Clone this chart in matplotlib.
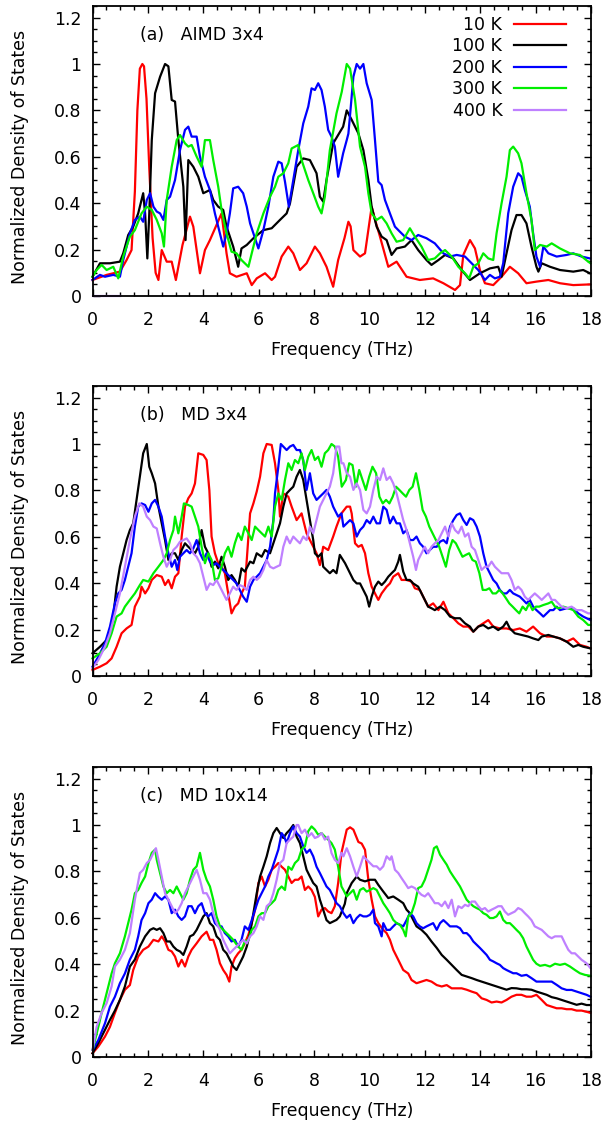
import matplotlib
matplotlib.use("Agg")
import matplotlib.pyplot as plt
from matplotlib.ticker import MultipleLocator, FuncFormatter

plt.rcParams['font.family'] = ['DejaVu Sans']

# ---------------- data: (frequency THz, normalized DOS) ----------------
labels = ["10 K", "100 K", "200 K", "300 K", "400 K"]
colors = ["#ff0000", "#000000", "#0000ff", "#00ee00", "#bf80ff"]
panel_titles = ["(a)   AIMD 3x4", "(b)   MD 3x4", "(c)   MD 10x14"]

a_10K = [(0.0,0.069),(0.51,0.091),(0.99,0.105),(1.23,0.155),(1.41,0.198),(1.53,0.45),(1.62,0.8),(1.71,0.98),(1.80,1.0),(1.86,0.99),(1.95,0.85),(2.05,0.55),(2.17,0.25),(2.28,0.10),(2.38,0.069),(2.50,0.198),(2.68,0.148),(2.86,0.148),(3.01,0.069),(3.25,0.22),(3.52,0.342),(3.64,0.299),(3.88,0.098),(4.06,0.198),(4.24,0.241),(4.66,0.356),(4.84,0.184),(4.96,0.098),(5.20,0.083),(5.57,0.098),(5.75,0.047),(5.93,0.076),(6.23,0.098),(6.47,0.069),(6.59,0.083),(6.83,0.170),(7.07,0.213),(7.25,0.184),(7.49,0.112),(7.73,0.141),(8.03,0.213),(8.21,0.184),(8.45,0.126),(8.69,0.040),(8.87,0.155),(9.10,0.25),(9.24,0.32),(9.32,0.30),(9.42,0.198),(9.66,0.170),(9.84,0.184),(10.08,0.385),(10.20,0.33),(10.38,0.256),(10.68,0.126),(10.98,0.148),(11.34,0.083),(11.82,0.069),(12.30,0.076),(12.67,0.055),(13.09,0.026),(13.27,0.047),(13.39,0.177),(13.63,0.241),(13.81,0.205),(13.99,0.112),(14.17,0.055),(14.47,0.047),(14.77,0.083),(15.07,0.126),(15.37,0.098),(15.67,0.055),(16.03,0.062),(16.46,0.069),(16.88,0.055),(17.36,0.047),(17.96,0.050)]
a_100K = [(0.0,0.083),(0.27,0.141),(0.63,0.141),(0.99,0.148),(1.11,0.184),(1.29,0.263),(1.47,0.299),(1.65,0.356),(1.83,0.443),(1.90,0.356),(1.98,0.162),(2.05,0.356),(2.14,0.672),(2.26,0.874),(2.44,0.945),(2.62,1.0),(2.74,0.99),(2.86,0.845),(2.98,0.838),(3.10,0.672),(3.28,0.471),(3.36,0.241),(3.46,0.586),(3.64,0.557),(3.82,0.514),(4.00,0.443),(4.24,0.457),(4.36,0.414),(4.54,0.385),(4.72,0.371),(4.84,0.299),(5.08,0.213),(5.26,0.126),(5.38,0.205),(5.57,0.220),(5.81,0.249),(6.17,0.284),(6.47,0.292),(6.77,0.328),(7.01,0.356),(7.13,0.399),(7.37,0.557),(7.61,0.593),(7.85,0.586),(8.09,0.529),(8.21,0.428),(8.33,0.407),(8.45,0.500),(8.69,0.658),(9.05,0.730),(9.18,0.80),(9.36,0.759),(9.60,0.701),(9.78,0.629),(9.96,0.500),(10.08,0.385),(10.26,0.299),(10.44,0.256),(10.62,0.241),(10.80,0.177),(10.98,0.205),(11.28,0.213),(11.52,0.241),(11.76,0.198),(12.06,0.155),(12.24,0.134),(12.49,0.155),(12.73,0.177),(13.03,0.162),(13.33,0.112),(13.63,0.069),(13.99,0.098),(14.35,0.119),(14.65,0.126),(14.77,0.083),(14.95,0.184),(15.13,0.284),(15.31,0.349),(15.49,0.349),(15.67,0.313),(15.85,0.213),(16.03,0.126),(16.10,0.105),(16.22,0.141),(16.52,0.126),(16.88,0.112),(17.36,0.105),(17.72,0.112),(17.96,0.098)]
a_200K = [(0.0,0.069),(0.27,0.091),(0.45,0.083),(0.75,0.091),(0.99,0.083),(1.11,0.155),(1.35,0.270),(1.53,0.328),(1.71,0.342),(1.83,0.320),(1.96,0.414),(2.08,0.443),(2.20,0.385),(2.32,0.364),(2.44,0.356),(2.56,0.328),(2.68,0.414),(2.80,0.428),(2.98,0.500),(3.16,0.629),(3.34,0.716),(3.46,0.730),(3.58,0.687),(3.76,0.687),(3.88,0.601),(4.06,0.514),(4.24,0.457),(4.42,0.356),(4.60,0.270),(4.72,0.213),(4.84,0.270),(4.96,0.356),(5.08,0.464),(5.26,0.471),(5.44,0.443),(5.57,0.385),(5.69,0.313),(5.81,0.270),(5.99,0.205),(6.17,0.284),(6.35,0.385),(6.53,0.514),(6.71,0.579),(6.83,0.572),(6.95,0.493),(7.09,0.385),(7.25,0.500),(7.43,0.629),(7.61,0.744),(7.79,0.816),(7.91,0.895),(8.03,0.888),(8.15,0.917),(8.27,0.888),(8.39,0.816),(8.51,0.716),(8.63,0.687),(8.75,0.644),(8.87,0.514),(9.05,0.615),(9.18,0.672),(9.24,0.70),(9.30,0.78),(9.42,0.945),(9.54,1.0),(9.66,0.98),(9.78,1.0),(9.90,0.917),(10.08,0.845),(10.20,0.672),(10.32,0.493),(10.44,0.478),(10.56,0.414),(10.74,0.356),(10.92,0.299),(11.10,0.277),(11.28,0.256),(11.52,0.241),(11.76,0.263),(12.06,0.249),(12.36,0.227),(12.67,0.184),(12.91,0.170),(13.15,0.177),(13.45,0.170),(13.69,0.141),(13.93,0.112),(14.17,0.069),(14.35,0.091),(14.53,0.076),(14.71,0.083),(14.83,0.141),(15.01,0.356),(15.19,0.471),(15.37,0.529),(15.49,0.514),(15.61,0.457),(15.79,0.385),(15.91,0.270),(16.03,0.170),(16.16,0.126),(16.28,0.213),(16.46,0.184),(16.76,0.170),(17.12,0.177),(17.36,0.184),(17.66,0.170),(17.96,0.162)]
a_300K = [(0.0,0.083),(0.15,0.112),(0.33,0.134),(0.51,0.112),(0.75,0.126),(0.93,0.076),(1.11,0.170),(1.35,0.256),(1.53,0.284),(1.77,0.356),(1.96,0.385),(2.14,0.371),(2.32,0.328),(2.50,0.270),(2.58,0.213),(2.68,0.414),(2.86,0.557),(3.04,0.672),(3.16,0.694),(3.34,0.658),(3.46,0.644),(3.58,0.651),(3.76,0.601),(3.94,0.557),(4.06,0.672),(4.24,0.672),(4.36,0.586),(4.54,0.471),(4.66,0.371),(4.84,0.270),(5.02,0.191),(5.20,0.184),(5.38,0.155),(5.63,0.126),(5.75,0.184),(5.93,0.270),(6.17,0.356),(6.41,0.428),(6.59,0.471),(6.71,0.514),(6.89,0.529),(7.07,0.572),(7.19,0.636),(7.43,0.651),(7.55,0.586),(7.79,0.500),(7.97,0.443),(8.15,0.385),(8.27,0.356),(8.39,0.428),(8.57,0.629),(8.81,0.787),(9.00,0.880),(9.18,1.0),(9.30,0.98),(9.48,0.845),(9.66,0.644),(9.84,0.557),(9.96,0.443),(10.08,0.356),(10.26,0.328),(10.44,0.342),(10.62,0.313),(10.80,0.270),(10.98,0.234),(11.22,0.241),(11.46,0.292),(11.64,0.256),(11.88,0.213),(12.12,0.155),(12.36,0.162),(12.55,0.184),(12.73,0.198),(12.97,0.170),(13.21,0.126),(13.45,0.098),(13.60,0.076),(13.75,0.126),(13.93,0.141),(14.11,0.184),(14.29,0.162),(14.47,0.155),(14.59,0.270),(14.77,0.399),(14.95,0.514),(15.07,0.629),(15.19,0.644),(15.37,0.615),(15.49,0.572),(15.67,0.443),(15.85,0.328),(15.97,0.198),(16.16,0.220),(16.40,0.213),(16.58,0.227),(16.88,0.205),(17.24,0.184),(17.60,0.177),(17.90,0.148),(17.98,0.141)]
a_400K = [(0.0,0.0),(0.99,0.0)]

b_10K = [(0.0,0.026),(0.27,0.040),(0.51,0.055),(0.69,0.076),(0.87,0.126),(1.05,0.184),(1.23,0.205),(1.41,0.220),(1.53,0.299),(1.71,0.342),(1.77,0.385),(1.90,0.356),(2.02,0.378),(2.14,0.414),(2.32,0.435),(2.50,0.428),(2.62,0.392),(2.74,0.414),(2.86,0.378),(2.98,0.428),(3.10,0.443),(3.22,0.601),(3.34,0.730),(3.46,0.766),(3.58,0.787),(3.70,0.830),(3.82,0.960),(4.00,0.953),(4.12,0.931),(4.22,0.80),(4.30,0.601),(4.42,0.529),(4.54,0.486),(4.66,0.471),(4.78,0.443),(4.90,0.356),(5.02,0.270),(5.14,0.299),(5.26,0.313),(5.38,0.356),(5.50,0.385),(5.57,0.500),(5.69,0.701),(5.81,0.744),(5.93,0.795),(6.05,0.859),(6.17,0.960),(6.29,1.0),(6.47,0.996),(6.59,0.917),(6.71,0.802),(6.77,0.687),(6.89,0.787),(7.07,0.773),(7.19,0.730),(7.37,0.672),(7.55,0.701),(7.73,0.615),(7.91,0.572),(8.09,0.529),(8.21,0.478),(8.33,0.557),(8.51,0.543),(8.69,0.601),(8.81,0.644),(8.99,0.701),(9.18,0.730),(9.30,0.730),(9.36,0.70),(9.48,0.572),(9.60,0.557),(9.72,0.565),(9.84,0.529),(9.96,0.443),(10.08,0.385),(10.20,0.356),(10.32,0.328),(10.44,0.356),(10.62,0.385),(10.74,0.399),(10.86,0.428),(11.04,0.443),(11.16,0.414),(11.34,0.414),(11.52,0.407),(11.64,0.378),(11.82,0.371),(11.94,0.342),(12.12,0.299),(12.30,0.313),(12.49,0.284),(12.67,0.320),(12.85,0.270),(13.03,0.249),(13.21,0.227),(13.39,0.213),(13.57,0.213),(13.75,0.191),(13.93,0.213),(14.11,0.227),(14.29,0.241),(14.47,0.213),(14.71,0.205),(14.95,0.205),(15.19,0.198),(15.43,0.205),(15.67,0.191),(15.91,0.213),(16.16,0.184),(16.40,0.170),(16.64,0.170),(16.88,0.162),(17.12,0.148),(17.36,0.162),(17.60,0.134),(17.84,0.126),(17.98,0.119)]
b_100K = [(0.0,0.098),(0.27,0.126),(0.51,0.155),(0.63,0.184),(0.75,0.256),(0.87,0.385),(0.99,0.471),(1.11,0.529),(1.23,0.586),(1.35,0.629),(1.47,0.658),(1.59,0.759),(1.71,0.859),(1.83,0.960),(1.96,1.0),(2.05,0.902),(2.14,0.874),(2.26,0.830),(2.38,0.730),(2.50,0.658),(2.62,0.586),(2.74,0.500),(2.86,0.529),(2.98,0.529),(3.10,0.500),(3.22,0.543),(3.34,0.572),(3.46,0.557),(3.58,0.543),(3.70,0.529),(3.82,0.557),(3.94,0.629),(4.06,0.557),(4.18,0.529),(4.30,0.471),(4.42,0.493),(4.54,0.464),(4.66,0.514),(4.78,0.471),(4.90,0.414),(5.02,0.435),(5.14,0.414),(5.26,0.385),(5.38,0.464),(5.50,0.450),(5.69,0.493),(5.81,0.486),(5.93,0.529),(6.11,0.514),(6.23,0.543),(6.41,0.529),(6.53,0.572),(6.65,0.615),(6.77,0.658),(6.89,0.730),(7.01,0.787),(7.13,0.802),(7.25,0.816),(7.37,0.859),(7.49,0.888),(7.61,0.845),(7.73,0.759),(7.85,0.672),(7.97,0.586),(8.03,0.529),(8.15,0.514),(8.27,0.529),(8.33,0.471),(8.45,0.457),(8.57,0.443),(8.69,0.457),(8.81,0.443),(8.93,0.522),(9.12,0.486),(9.30,0.443),(9.42,0.414),(9.54,0.399),(9.66,0.399),(9.78,0.371),(9.90,0.342),(9.99,0.299),(10.08,0.342),(10.20,0.385),(10.32,0.407),(10.44,0.392),(10.56,0.407),(10.68,0.428),(10.80,0.443),(10.92,0.457),(11.04,0.493),(11.10,0.522),(11.22,0.450),(11.34,0.414),(11.46,0.414),(11.58,0.399),(11.76,0.385),(11.88,0.356),(12.00,0.328),(12.12,0.299),(12.24,0.292),(12.36,0.284),(12.55,0.299),(12.73,0.284),(12.91,0.256),(13.09,0.249),(13.27,0.249),(13.45,0.227),(13.63,0.213),(13.75,0.191),(13.93,0.213),(14.11,0.220),(14.29,0.205),(14.47,0.213),(14.65,0.198),(14.83,0.213),(14.95,0.234),(15.07,0.205),(15.25,0.184),(15.49,0.177),(15.73,0.170),(15.91,0.162),(16.10,0.155),(16.22,0.170),(16.46,0.177),(16.64,0.170),(16.88,0.162),(17.12,0.148),(17.36,0.126),(17.54,0.134),(17.72,0.126),(17.98,0.119)]
b_200K = [(0.0,0.040),(0.21,0.083),(0.45,0.141),(0.63,0.213),(0.81,0.313),(0.93,0.356),(1.05,0.371),(1.17,0.414),(1.29,0.471),(1.41,0.529),(1.53,0.644),(1.65,0.730),(1.77,0.744),(1.90,0.737),(2.02,0.708),(2.14,0.744),(2.26,0.759),(2.38,0.730),(2.50,0.687),(2.62,0.601),(2.74,0.529),(2.86,0.471),(2.98,0.500),(3.06,0.457),(3.16,0.514),(3.28,0.529),(3.40,0.543),(3.52,0.529),(3.64,0.550),(3.76,0.586),(3.88,0.529),(4.00,0.500),(4.12,0.529),(4.24,0.493),(4.36,0.478),(4.48,0.486),(4.60,0.471),(4.72,0.457),(4.84,0.443),(4.96,0.428),(5.08,0.414),(5.20,0.399),(5.32,0.371),(5.44,0.342),(5.57,0.320),(5.69,0.385),(5.81,0.414),(5.93,0.428),(6.05,0.443),(6.17,0.471),(6.29,0.500),(6.41,0.557),(6.53,0.672),(6.59,0.787),(6.71,0.902),(6.80,1.0),(6.89,0.989),(7.01,0.974),(7.13,0.989),(7.25,0.996),(7.37,0.974),(7.49,0.974),(7.61,0.931),(7.73,0.802),(7.85,0.874),(7.97,0.787),(8.09,0.759),(8.21,0.773),(8.33,0.787),(8.45,0.802),(8.57,0.773),(8.69,0.730),(8.87,0.687),(8.99,0.701),(9.06,0.644),(9.18,0.658),(9.30,0.672),(9.42,0.658),(9.54,0.601),(9.66,0.629),(9.78,0.644),(9.90,0.672),(10.02,0.658),(10.14,0.687),(10.26,0.658),(10.38,0.658),(10.50,0.730),(10.62,0.716),(10.74,0.658),(10.86,0.687),(10.98,0.658),(11.10,0.658),(11.22,0.615),(11.34,0.629),(11.46,0.586),(11.58,0.586),(11.70,0.601),(11.82,0.572),(11.94,0.557),(12.06,0.529),(12.18,0.543),(12.30,0.557),(12.43,0.557),(12.55,0.579),(12.67,0.586),(12.79,0.572),(12.91,0.644),(13.03,0.672),(13.15,0.694),(13.27,0.701),(13.39,0.672),(13.51,0.651),(13.63,0.680),(13.75,0.672),(13.87,0.644),(13.99,0.601),(14.11,0.529),(14.23,0.471),(14.35,0.443),(14.47,0.414),(14.59,0.399),(14.71,0.371),(14.83,0.356),(14.95,0.356),(15.07,0.371),(15.19,0.356),(15.31,0.349),(15.43,0.342),(15.55,0.328),(15.67,0.313),(15.79,0.328),(15.91,0.299),(16.03,0.284),(16.16,0.270),(16.28,0.256),(16.40,0.270),(16.52,0.284),(16.64,0.284),(16.76,0.299),(16.88,0.284),(17.12,0.292),(17.36,0.292),(17.54,0.270),(17.72,0.256),(17.98,0.241)]
b_300K = [(0.0,0.076),(0.27,0.098),(0.51,0.126),(0.69,0.184),(0.87,0.256),(1.05,0.270),(1.17,0.299),(1.35,0.328),(1.53,0.356),(1.71,0.392),(1.83,0.414),(2.02,0.407),(2.20,0.443),(2.38,0.471),(2.56,0.500),(2.68,0.529),(2.80,0.586),(2.92,0.629),(2.98,0.687),(3.10,0.615),(3.22,0.687),(3.30,0.744),(3.46,0.737),(3.58,0.730),(3.70,0.687),(3.82,0.644),(3.94,0.557),(4.06,0.486),(4.18,0.529),(4.30,0.500),(4.42,0.414),(4.54,0.421),(4.66,0.471),(4.78,0.529),(4.90,0.557),(5.02,0.514),(5.14,0.572),(5.26,0.615),(5.38,0.586),(5.50,0.644),(5.63,0.615),(5.75,0.586),(5.87,0.644),(5.99,0.629),(6.11,0.615),(6.23,0.601),(6.35,0.644),(6.47,0.601),(6.59,0.730),(6.71,0.787),(6.83,0.759),(6.95,0.845),(7.07,0.917),(7.19,0.888),(7.31,0.931),(7.43,0.917),(7.55,0.960),(7.67,0.888),(7.79,0.945),(7.91,0.974),(8.03,0.931),(8.15,0.945),(8.27,0.902),(8.39,0.960),(8.51,0.974),(8.63,1.0),(8.75,0.989),(8.87,0.945),(9.00,0.816),(9.15,0.845),(9.27,0.917),(9.39,0.909),(9.51,0.816),(9.63,0.888),(9.75,0.845),(9.87,0.802),(9.99,0.859),(10.11,0.902),(10.24,0.874),(10.36,0.773),(10.48,0.744),(10.60,0.759),(10.72,0.744),(10.84,0.773),(10.96,0.816),(11.08,0.802),(11.20,0.787),(11.32,0.773),(11.44,0.802),(11.56,0.816),(11.68,0.874),(11.80,0.802),(11.92,0.716),(12.04,0.687),(12.16,0.644),(12.28,0.615),(12.40,0.586),(12.52,0.557),(12.64,0.514),(12.76,0.471),(12.88,0.543),(13.00,0.586),(13.12,0.572),(13.24,0.543),(13.36,0.514),(13.48,0.522),(13.60,0.529),(13.72,0.500),(13.84,0.493),(13.97,0.443),(14.09,0.371),(14.21,0.371),(14.33,0.378),(14.45,0.356),(14.57,0.356),(14.69,0.371),(14.81,0.356),(14.93,0.335),(15.05,0.313),(15.17,0.299),(15.29,0.284),(15.41,0.270),(15.53,0.299),(15.65,0.284),(15.77,0.313),(15.89,0.284),(16.01,0.299),(16.13,0.299),(16.28,0.306),(16.46,0.313),(16.58,0.320),(16.70,0.299),(16.82,0.292),(17.00,0.299),(17.18,0.292),(17.36,0.284),(17.54,0.256),(17.72,0.241),(17.90,0.220),(17.98,0.220)]
b_400K = [(0.0,0.033),(0.21,0.069),(0.45,0.126),(0.63,0.184),(0.81,0.270),(0.99,0.356),(1.17,0.471),(1.35,0.586),(1.53,0.687),(1.69,0.744),(1.83,0.730),(1.96,0.687),(2.08,0.672),(2.20,0.644),(2.32,0.636),(2.44,0.572),(2.56,0.514),(2.68,0.471),(2.80,0.500),(2.92,0.543),(3.04,0.557),(3.16,0.579),(3.28,0.586),(3.40,0.593),(3.52,0.572),(3.64,0.529),(3.76,0.514),(3.88,0.486),(4.00,0.428),(4.12,0.371),(4.24,0.399),(4.36,0.392),(4.48,0.414),(4.60,0.385),(4.72,0.356),(4.84,0.328),(4.96,0.356),(5.08,0.385),(5.20,0.371),(5.32,0.392),(5.44,0.385),(5.57,0.371),(5.69,0.414),(5.81,0.428),(5.93,0.414),(6.05,0.428),(6.17,0.457),(6.29,0.500),(6.41,0.471),(6.53,0.464),(6.65,0.471),(6.77,0.478),(6.89,0.557),(7.01,0.601),(7.13,0.572),(7.25,0.601),(7.37,0.586),(7.49,0.572),(7.61,0.601),(7.73,0.586),(7.85,0.644),(7.97,0.615),(8.09,0.672),(8.21,0.730),(8.33,0.759),(8.45,0.787),(8.57,0.816),(8.69,0.874),(8.81,0.989),(8.91,0.989),(8.99,0.917),(9.06,0.917),(9.18,0.874),(9.30,0.859),(9.42,0.802),(9.54,0.830),(9.66,0.802),(9.78,0.716),(9.90,0.701),(10.02,0.730),(10.14,0.802),(10.26,0.859),(10.38,0.845),(10.50,0.895),(10.62,0.845),(10.74,0.859),(10.86,0.830),(10.98,0.787),(11.10,0.730),(11.22,0.672),(11.34,0.629),(11.46,0.572),(11.58,0.514),(11.68,0.457),(11.76,0.500),(11.88,0.529),(12.00,0.557),(12.12,0.529),(12.24,0.557),(12.36,0.572),(12.49,0.586),(12.61,0.615),(12.73,0.644),(12.85,0.601),(12.97,0.658),(13.09,0.629),(13.21,0.615),(13.33,0.644),(13.45,0.601),(13.57,0.615),(13.69,0.557),(13.81,0.543),(13.93,0.500),(14.05,0.457),(14.17,0.471),(14.29,0.471),(14.41,0.493),(14.53,0.471),(14.65,0.457),(14.77,0.443),(14.89,0.443),(15.01,0.443),(15.13,0.414),(15.25,0.371),(15.37,0.385),(15.49,0.371),(15.61,0.342),(15.73,0.328),(15.85,0.342),(15.97,0.356),(16.10,0.342),(16.22,0.328),(16.34,0.342),(16.46,0.356),(16.58,0.328),(16.70,0.328),(16.82,0.313),(16.94,0.299),(17.12,0.292),(17.30,0.299),(17.48,0.284),(17.66,0.284),(17.90,0.270),(17.98,0.270)]

c_10K = [(0.0,0.016),(0.21,0.045),(0.45,0.088),(0.63,0.130),(0.81,0.190),(0.99,0.246),(1.17,0.290),(1.35,0.310),(1.47,0.375),(1.65,0.433),(1.83,0.462),(2.02,0.476),(2.20,0.505),(2.38,0.498),(2.50,0.520),(2.62,0.498),(2.74,0.462),(2.86,0.455),(2.98,0.433),(3.10,0.390),(3.22,0.419),(3.34,0.390),(3.46,0.433),(3.58,0.462),(3.76,0.490),(3.94,0.520),(4.12,0.540),(4.24,0.505),(4.36,0.505),(4.48,0.462),(4.60,0.404),(4.72,0.375),(4.84,0.354),(4.94,0.325),(5.02,0.390),(5.14,0.426),(5.26,0.447),(5.38,0.462),(5.50,0.490),(5.63,0.527),(5.75,0.577),(5.87,0.635),(5.99,0.750),(6.11,0.778),(6.23,0.735),(6.35,0.764),(6.47,0.807),(6.59,0.820),(6.71,0.836),(6.83,0.820),(6.95,0.807),(7.07,0.778),(7.19,0.750),(7.31,0.764),(7.43,0.764),(7.55,0.778),(7.67,0.720),(7.79,0.735),(7.91,0.720),(8.03,0.690),(8.15,0.606),(8.27,0.635),(8.39,0.642),(8.51,0.627),(8.63,0.620),(8.75,0.650),(8.87,0.750),(8.99,0.880),(9.18,0.980),(9.30,0.99),(9.42,0.98),(9.60,0.927),(9.72,0.92),(9.84,0.893),(9.96,0.764),(10.08,0.678),(10.20,0.606),(10.32,0.577),(10.50,0.548),(10.62,0.534),(10.74,0.505),(10.86,0.462),(11.04,0.419),(11.22,0.375),(11.40,0.360),(11.52,0.332),(11.70,0.318),(11.88,0.325),(12.06,0.332),(12.24,0.325),(12.43,0.310),(12.61,0.304),(12.79,0.310),(12.97,0.296),(13.15,0.296),(13.33,0.296),(13.51,0.290),(13.69,0.282),(13.87,0.275),(14.05,0.253),(14.23,0.246),(14.41,0.235),(14.59,0.239),(14.77,0.235),(14.95,0.246),(15.13,0.260),(15.31,0.268),(15.49,0.268),(15.67,0.260),(15.85,0.260),(16.03,0.268),(16.22,0.246),(16.40,0.224),(16.58,0.217),(16.76,0.210),(16.94,0.210),(17.12,0.206),(17.30,0.206),(17.48,0.200),(17.66,0.200),(17.84,0.195),(17.98,0.190)]
c_100K = [(0.0,0.016),(0.21,0.060),(0.45,0.117),(0.63,0.160),(0.81,0.200),(0.99,0.246),(1.17,0.304),(1.35,0.390),(1.53,0.420),(1.71,0.476),(1.90,0.520),(2.08,0.548),(2.20,0.555),(2.32,0.548),(2.44,0.555),(2.56,0.534),(2.68,0.498),(2.80,0.498),(2.92,0.476),(3.04,0.462),(3.16,0.455),(3.28,0.440),(3.40,0.476),(3.52,0.520),(3.64,0.527),(3.76,0.548),(3.88,0.577),(4.00,0.606),(4.12,0.620),(4.24,0.577),(4.36,0.563),(4.48,0.520),(4.60,0.505),(4.72,0.462),(4.84,0.447),(4.96,0.419),(5.08,0.390),(5.20,0.375),(5.32,0.404),(5.44,0.433),(5.57,0.476),(5.69,0.534),(5.81,0.620),(5.93,0.706),(6.05,0.778),(6.17,0.820),(6.29,0.865),(6.41,0.922),(6.53,0.965),(6.65,0.987),(6.77,0.965),(6.89,0.944),(7.01,0.965),(7.13,0.980),(7.25,1.0),(7.37,0.950),(7.49,0.922),(7.61,0.865),(7.73,0.807),(7.85,0.778),(7.97,0.750),(8.09,0.735),(8.21,0.678),(8.33,0.635),(8.45,0.590),(8.57,0.577),(8.69,0.584),(8.81,0.591),(8.93,0.606),(9.11,0.660),(9.18,0.706),(9.36,0.750),(9.54,0.778),(9.66,0.764),(9.84,0.757),(10.02,0.764),(10.20,0.764),(10.32,0.742),(10.50,0.713),(10.68,0.685),(10.86,0.692),(11.04,0.678),(11.22,0.663),(11.34,0.635),(11.46,0.620),(11.58,0.591),(11.70,0.563),(11.88,0.548),(12.06,0.527),(12.24,0.498),(12.43,0.470),(12.61,0.440),(12.79,0.419),(12.97,0.397),(13.15,0.375),(13.33,0.354),(13.51,0.347),(13.69,0.340),(13.87,0.332),(14.05,0.325),(14.23,0.318),(14.41,0.311),(14.59,0.304),(14.77,0.297),(14.95,0.290),(15.13,0.297),(15.31,0.296),(15.49,0.292),(15.67,0.292),(15.85,0.290),(16.03,0.282),(16.22,0.275),(16.40,0.268),(16.58,0.258),(16.76,0.253),(16.94,0.246),(17.12,0.239),(17.30,0.232),(17.48,0.225),(17.66,0.230),(17.84,0.224),(17.98,0.224)]
c_200K = [(0.0,0.030),(0.21,0.073),(0.45,0.145),(0.63,0.217),(0.81,0.260),(0.99,0.318),(1.17,0.360),(1.35,0.420),(1.53,0.462),(1.65,0.520),(1.77,0.590),(1.90,0.620),(2.02,0.663),(2.14,0.678),(2.26,0.706),(2.38,0.690),(2.50,0.678),(2.62,0.692),(2.74,0.678),(2.86,0.620),(2.98,0.635),(3.10,0.606),(3.22,0.591),(3.34,0.606),(3.46,0.650),(3.58,0.650),(3.70,0.620),(3.82,0.650),(3.94,0.663),(4.06,0.620),(4.18,0.606),(4.30,0.620),(4.42,0.577),(4.54,0.563),(4.66,0.563),(4.78,0.534),(4.90,0.520),(5.02,0.498),(5.14,0.505),(5.26,0.476),(5.38,0.505),(5.50,0.563),(5.63,0.548),(5.75,0.590),(5.87,0.635),(5.99,0.678),(6.11,0.706),(6.23,0.735),(6.35,0.778),(6.47,0.807),(6.59,0.850),(6.71,0.894),(6.83,0.965),(6.92,0.950),(7.01,0.922),(7.13,0.965),(7.25,0.994),(7.37,0.965),(7.49,0.950),(7.61,0.908),(7.73,0.880),(7.85,0.894),(7.97,0.865),(8.09,0.820),(8.21,0.793),(8.33,0.764),(8.45,0.735),(8.57,0.720),(8.69,0.692),(8.81,0.663),(8.93,0.650),(9.06,0.620),(9.18,0.600),(9.30,0.613),(9.42,0.577),(9.54,0.599),(9.66,0.613),(9.78,0.606),(9.90,0.606),(10.02,0.613),(10.14,0.635),(10.20,0.577),(10.32,0.563),(10.44,0.520),(10.50,0.577),(10.62,0.548),(10.74,0.548),(10.86,0.563),(10.98,0.577),(11.10,0.570),(11.22,0.563),(11.34,0.590),(11.46,0.620),(11.58,0.606),(11.70,0.577),(11.82,0.563),(11.94,0.555),(12.06,0.563),(12.18,0.570),(12.30,0.577),(12.43,0.548),(12.55,0.577),(12.67,0.590),(12.79,0.577),(12.91,0.563),(13.03,0.563),(13.15,0.563),(13.27,0.555),(13.39,0.534),(13.51,0.534),(13.63,0.520),(13.75,0.498),(13.87,0.484),(13.99,0.470),(14.11,0.455),(14.23,0.440),(14.35,0.419),(14.47,0.412),(14.59,0.404),(14.71,0.397),(14.83,0.383),(14.95,0.375),(15.07,0.368),(15.19,0.361),(15.31,0.361),(15.49,0.350),(15.67,0.354),(15.85,0.340),(16.03,0.325),(16.22,0.325),(16.40,0.325),(16.58,0.325),(16.76,0.311),(16.94,0.296),(17.12,0.289),(17.30,0.289),(17.48,0.282),(17.66,0.275),(17.84,0.268),(17.98,0.260)]
c_300K = [(0.0,0.030),(0.15,0.100),(0.33,0.190),(0.51,0.275),(0.69,0.360),(0.81,0.404),(0.99,0.447),(1.17,0.520),(1.29,0.577),(1.41,0.635),(1.53,0.706),(1.65,0.720),(1.77,0.750),(1.90,0.778),(2.02,0.836),(2.14,0.880),(2.26,0.894),(2.32,0.850),(2.44,0.793),(2.56,0.735),(2.68,0.706),(2.80,0.720),(2.92,0.706),(3.04,0.735),(3.16,0.706),(3.28,0.678),(3.40,0.706),(3.52,0.764),(3.64,0.807),(3.76,0.822),(3.88,0.880),(4.00,0.807),(4.12,0.764),(4.24,0.735),(4.36,0.678),(4.48,0.606),(4.60,0.563),(4.72,0.548),(4.84,0.534),(4.96,0.520),(5.08,0.505),(5.26,0.476),(5.38,0.462),(5.50,0.498),(5.63,0.505),(5.75,0.548),(5.87,0.563),(5.99,0.606),(6.11,0.620),(6.23,0.620),(6.35,0.650),(6.47,0.663),(6.59,0.678),(6.71,0.720),(6.83,0.735),(6.95,0.720),(7.07,0.820),(7.19,0.807),(7.31,0.836),(7.43,0.850),(7.55,0.894),(7.67,0.908),(7.79,0.973),(7.91,0.994),(8.03,0.980),(8.15,0.958),(8.27,0.965),(8.39,0.950),(8.51,0.937),(8.63,0.922),(8.75,0.894),(8.87,0.820),(8.99,0.735),(9.06,0.720),(9.18,0.692),(9.30,0.706),(9.42,0.720),(9.54,0.678),(9.66,0.720),(9.78,0.728),(9.90,0.713),(10.02,0.720),(10.14,0.728),(10.26,0.720),(10.38,0.692),(10.50,0.663),(10.62,0.642),(10.74,0.620),(10.86,0.591),(10.98,0.577),(11.10,0.570),(11.22,0.548),(11.31,0.520),(11.40,0.606),(11.52,0.620),(11.64,0.663),(11.76,0.728),(11.88,0.735),(12.00,0.764),(12.12,0.807),(12.24,0.850),(12.33,0.900),(12.43,0.908),(12.55,0.872),(12.67,0.850),(12.79,0.829),(12.91,0.800),(13.03,0.778),(13.15,0.757),(13.27,0.735),(13.39,0.706),(13.51,0.678),(13.63,0.663),(13.75,0.650),(13.87,0.642),(13.99,0.635),(14.11,0.620),(14.23,0.613),(14.35,0.599),(14.47,0.599),(14.59,0.606),(14.71,0.627),(14.83,0.591),(14.95,0.577),(15.07,0.577),(15.19,0.563),(15.31,0.548),(15.43,0.534),(15.55,0.512),(15.67,0.476),(15.79,0.447),(15.91,0.419),(16.03,0.402),(16.16,0.393),(16.34,0.397),(16.52,0.390),(16.70,0.402),(16.88,0.397),(17.06,0.402),(17.24,0.390),(17.42,0.375),(17.60,0.361),(17.78,0.354),(17.98,0.350)]
c_400K = [(0.0,0.030),(0.15,0.130),(0.33,0.190),(0.51,0.232),(0.69,0.304),(0.81,0.390),(0.99,0.420),(1.17,0.462),(1.35,0.534),(1.53,0.678),(1.71,0.793),(1.83,0.807),(1.96,0.836),(2.08,0.850),(2.20,0.880),(2.29,0.900),(2.38,0.850),(2.50,0.778),(2.62,0.706),(2.74,0.678),(2.86,0.650),(2.98,0.620),(3.10,0.635),(3.22,0.663),(3.34,0.706),(3.46,0.735),(3.58,0.764),(3.70,0.793),(3.76,0.807),(3.88,0.764),(4.00,0.706),(4.12,0.706),(4.24,0.678),(4.36,0.620),(4.48,0.577),(4.60,0.548),(4.72,0.505),(4.84,0.476),(4.96,0.447),(5.08,0.462),(5.20,0.476),(5.32,0.490),(5.44,0.505),(5.57,0.490),(5.69,0.520),(5.81,0.534),(5.93,0.563),(6.05,0.606),(6.17,0.591),(6.29,0.650),(6.41,0.663),(6.53,0.706),(6.65,0.764),(6.77,0.836),(6.89,0.850),(7.01,0.922),(7.13,0.937),(7.25,0.950),(7.37,1.0),(7.43,1.0),(7.55,0.965),(7.67,0.980),(7.79,0.950),(7.91,0.965),(8.03,0.944),(8.15,0.950),(8.27,0.965),(8.39,0.937),(8.51,0.950),(8.63,0.879),(8.75,0.850),(8.87,0.836),(8.99,0.880),(9.06,0.865),(9.18,0.900),(9.30,0.865),(9.42,0.820),(9.54,0.778),(9.66,0.820),(9.78,0.865),(9.90,0.850),(10.02,0.836),(10.14,0.822),(10.26,0.822),(10.38,0.807),(10.50,0.822),(10.62,0.865),(10.74,0.850),(10.80,0.865),(10.92,0.807),(11.04,0.793),(11.16,0.771),(11.28,0.750),(11.40,0.728),(11.52,0.735),(11.64,0.728),(11.76,0.713),(11.88,0.699),(12.00,0.692),(12.12,0.706),(12.24,0.685),(12.36,0.663),(12.49,0.663),(12.61,0.650),(12.73,0.670),(12.85,0.642),(12.97,0.678),(13.09,0.606),(13.21,0.650),(13.33,0.642),(13.45,0.656),(13.57,0.650),(13.69,0.670),(13.81,0.670),(13.93,0.650),(14.05,0.635),(14.17,0.642),(14.29,0.627),(14.41,0.635),(14.53,0.642),(14.65,0.650),(14.77,0.650),(14.89,0.627),(15.01,0.613),(15.13,0.620),(15.25,0.627),(15.37,0.642),(15.49,0.635),(15.61,0.620),(15.73,0.606),(15.85,0.590),(15.97,0.563),(16.10,0.555),(16.22,0.548),(16.34,0.534),(16.46,0.520),(16.58,0.512),(16.70,0.520),(16.82,0.520),(16.94,0.520),(17.06,0.490),(17.18,0.462),(17.30,0.447),(17.42,0.447),(17.54,0.433),(17.66,0.419),(17.84,0.404),(17.98,0.383)]

panels = [
    [a_10K, a_100K, a_200K, a_300K, a_400K],
    [b_10K, b_100K, b_200K, b_300K, b_400K],
    [c_10K, c_100K, c_200K, c_300K, c_400K],
]

# ---------------- figure ----------------
W, H = 607, 1127
fig = plt.figure(figsize=(W / 100, H / 100), dpi=100)

left_px, right_px = 92.5, 591.0
bottoms_px = [296, 676, 1057]
height_px = 290

FS = 12.5

def ytick_fmt(v, pos):
    s = "%.1f" % v
    if s.endswith(".0"):
        s = s[:-2]
    return s

for i, (series_list, title) in enumerate(zip(panels, panel_titles)):
    ax = fig.add_axes([left_px / W, 1 - bottoms_px[i] / H,
                       (right_px - left_px) / W, height_px / H])
    for pts, lab, col in zip(series_list, labels, colors):
        xs = [p[0] for p in pts]
        ys = [p[1] for p in pts]
        ax.plot(xs, ys, color=col, lw=1.6, label=lab, clip_on=False)
    ax.set_xlim(0, 18)
    ax.set_ylim(0, 1.25)
    ax.xaxis.set_major_locator(MultipleLocator(2))
    ax.xaxis.set_minor_locator(MultipleLocator(0.5))
    ax.yaxis.set_major_locator(MultipleLocator(0.2))
    ax.yaxis.set_minor_locator(MultipleLocator(0.05))
    ax.yaxis.set_major_formatter(FuncFormatter(ytick_fmt))
    ax.tick_params(which='both', direction='in', top=True, right=True,
                   labelsize=FS, width=1.0, color='black')
    ax.tick_params(which='major', length=5)
    ax.tick_params(which='minor', length=3)
    ax.tick_params(axis='x', which='major', pad=11)
    ax.tick_params(axis='y', which='major', pad=8)
    for sp in ax.spines.values():
        sp.set_linewidth(1.3)
        sp.set_zorder(3)
    ax.set_xlabel("Frequency (THz)", fontsize=FS)
    ax.set_ylabel("Normalized Density of States", fontsize=FS)
    ax.xaxis.set_label_coords(0.5, -0.155)
    ax.yaxis.set_label_coords(-0.128, 0.48)
    ax.text(0.096, 0.900, title, transform=ax.transAxes, fontsize=FS,
            ha='left', va='center')
    if i == 0:
        ax.legend(loc='upper right', bbox_to_anchor=(0.95, 0.966),
                  frameon=False, markerfirst=False, fontsize=FS,
                  handlelength=3.0, handletextpad=0.67, labelspacing=0.2,
                  borderpad=0, borderaxespad=0)

fig.savefig("out.png", dpi=100)
